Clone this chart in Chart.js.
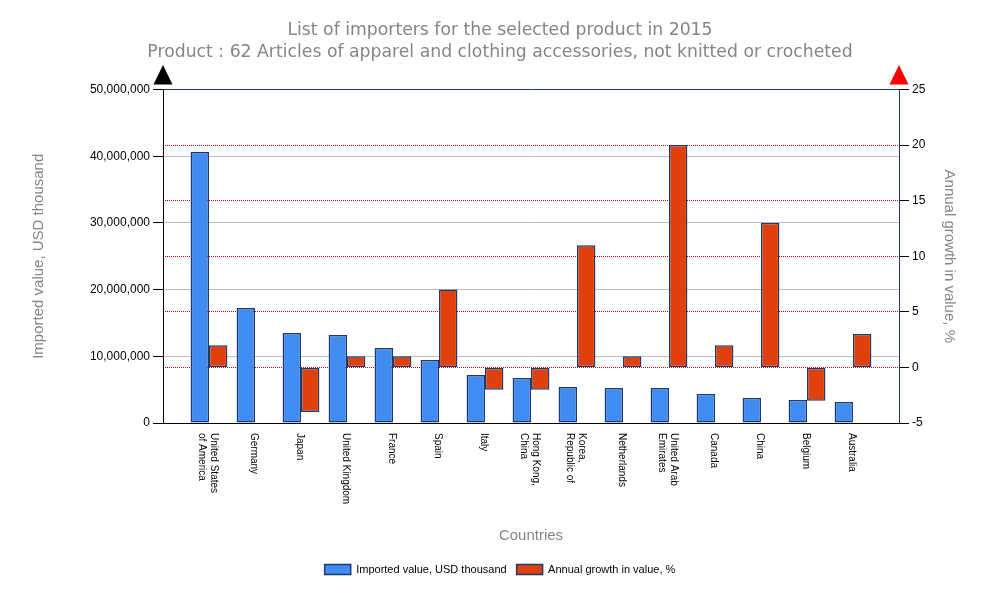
<!DOCTYPE html>
<html><head><meta charset="utf-8">
<script src="https://cdn.jsdelivr.net/npm/chart.js@4"></script>
<style>html,body{margin:0;padding:0;background:#fff}</style>
</head><body>
<canvas id="c" width="1000" height="600"></canvas>
<script>
const titleLines = ['List of importers for the selected product in 2015',
  'Product : 62 Articles of apparel and clothing accessories, not knitted or crocheted'];
const categories = ['United States\nof America', 'Germany', 'Japan', 'United Kingdom', 'France', 'Spain', 'Italy',
  'Hong Kong,\nChina', 'Korea,\nRepublic of', 'Netherlands', 'United Arab\nEmirates', 'Canada', 'China', 'Belgium', 'Australia'];
const importedValues = [40630000, 17240000, 13490000, 13190000, 11240000, 9450000, 7200000,
  6750000, 5400000, 5250000, 5250000, 4350000, 3750000, 3450000, 3150000];
const growthValues = [2, null, -4, 1, 1, 7, -2, -2, 11, 1, 20, 2, 13, -3, 3];
const leftAxis = {min: 0, max: 50000000, step: 10000000};
const rightAxis = {min: -5, max: 25, step: 5};

// one empty slot at each end so the categories sit inside the plot like the original
const padded = arr => [null, ...arr, null];
const labels = ['', ...categories.map(c => c.split('\n')), ''];

const GRAY = '#858585';
const NAVY = '#1c3a6b';

const decor = {
  id: 'decor',
  afterDraw(chart) {
    const {ctx, chartArea: a, scales: {x}} = chart;
    ctx.save();
    ctx.font = '10px Arial, "Liberation Sans"';
    ctx.fillStyle = '#000';
    ctx.textAlign = 'left';
    ctx.textBaseline = 'middle';
    categories.forEach((c, i) => {
      const px = x.getPixelForValue(i + 1) - 1;
      const lines = c.split('\n');
      ctx.save();
      ctx.translate(px, x.top + 10);
      ctx.rotate(Math.PI / 2);
      lines.forEach((ln, j) => ctx.fillText(ln, 0, (j - (lines.length - 1) / 2) * 12));
      ctx.restore();
    });
    const tri = (cx, col) => {
      ctx.beginPath();
      ctx.moveTo(cx - 9.5, a.top - 5);
      ctx.lineTo(cx + 9.5, a.top - 5);
      ctx.lineTo(cx, a.top - 24.5);
      ctx.closePath();
      ctx.fillStyle = col;
      ctx.fill();
    };
    tri(a.left, '#000');
    tri(a.right, '#ff0000');
    ctx.restore();
  }
};

new Chart(document.getElementById('c'), {
  type: 'bar',
  data: {
    labels: labels,
    datasets: [
      {label: 'Imported value, USD thousand', data: padded(importedValues), yAxisID: 'y',
        backgroundColor: '#418cf0', borderColor: NAVY, borderWidth: 1.5, borderSkipped: false,
        categoryPercentage: 0.8, barPercentage: 1},
      {label: 'Annual growth in value, %', data: padded(growthValues), yAxisID: 'y1',
        backgroundColor: '#e0400a', borderColor: NAVY, borderWidth: 1.5, borderSkipped: false,
        categoryPercentage: 0.8, barPercentage: 1}
    ]
  },
  options: {
    responsive: false,
    animation: false,
    layout: {padding: {left: 0, right: 0, top: 0, bottom: 15}},
    plugins: {
      tooltip: {enabled: false},
      title: {display: true, text: titleLines, color: GRAY,
        font: {family: '"DejaVu Sans", Verdana', size: 17.25, weight: 'normal', lineHeight: '21.5px'},
        padding: {top: 20, bottom: 26.5}},
      legend: {position: 'bottom',
        labels: {boxWidth: 26, boxHeight: 10, color: '#000', padding: 10,
          font: {family: 'Arial, "Liberation Sans"', size: 11}}}
    },
    scales: {
      x: {
        type: 'category', offset: false,
        grid: {display: false},
        border: {display: true, color: '#000', width: 1},
        ticks: {display: false},
        title: {display: true, text: 'Countries', color: GRAY,
          font: {family: 'Arial, "Liberation Sans"', size: 15}, padding: {top: 0, bottom: 9}},
        afterFit(s) { s.height = 131; }
      },
      y: {
        position: 'left', min: leftAxis.min, max: leftAxis.max,
        ticks: {stepSize: leftAxis.step, color: '#000', padding: 3,
          font: {family: 'Arial, "Liberation Sans"', size: 12},
          callback: v => Number(v).toLocaleString('en-US')},
        grid: {
          color: c => c.tick.value === leftAxis.max ? NAVY : (c.tick.value === leftAxis.min ? 'rgba(0,0,0,0)' : '#bdbdbd'),
          tickColor: '#000', tickLength: 10, lineWidth: 1
        },
        border: {display: true, color: '#000', width: 1},
        title: {display: true, text: 'Imported value, USD thousand', color: GRAY,
          font: {family: 'Arial, "Liberation Sans"', size: 15}, padding: {top: 30}},
        afterFit(s) { s.width = 163; }
      },
      y1: {
        position: 'right', min: rightAxis.min, max: rightAxis.max,
        ticks: {stepSize: rightAxis.step, color: '#000', padding: 3,
          font: {family: 'Arial, "Liberation Sans"', size: 12}},
        grid: {
          color: c => (c.tick.value === rightAxis.min || c.tick.value === rightAxis.max) ? 'rgba(0,0,0,0)' : '#cc0000',
          tickColor: '#000', tickLength: 10, lineWidth: 1
        },
        border: {display: true, color: NAVY, width: 1, dash: [1, 1]},
        title: {display: true, text: 'Annual growth in value, %', color: GRAY,
          font: {family: 'Arial, "Liberation Sans"', size: 15}, padding: {top: 42}},
        afterFit(s) { s.width = 101; }
      }
    }
  },
  plugins: [decor]
});
</script>
</body></html>
